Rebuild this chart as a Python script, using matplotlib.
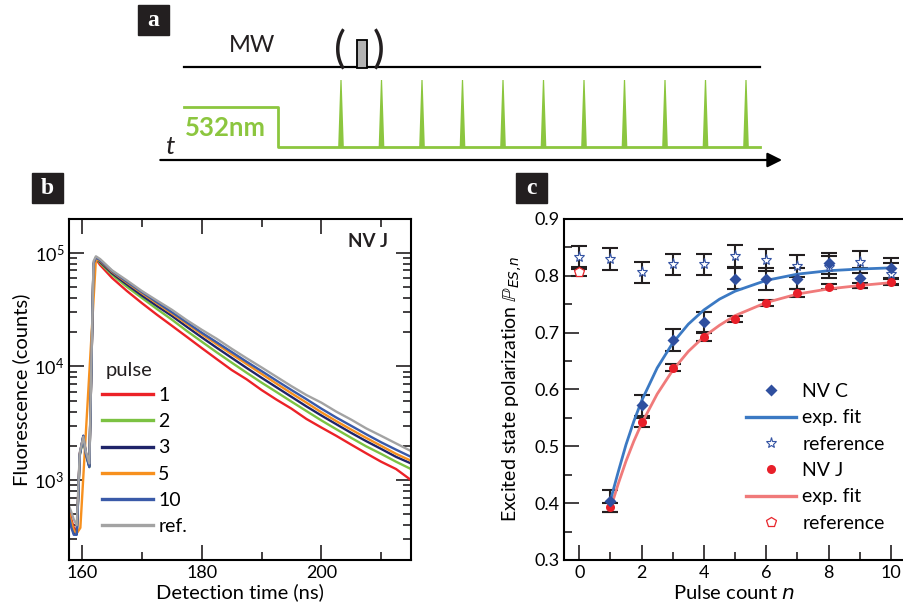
import matplotlib
matplotlib.use('Agg')
import matplotlib.pyplot as plt
from matplotlib.patches import Rectangle, Polygon
from matplotlib.ticker import MultipleLocator
from matplotlib.lines import Line2D

plt.rcParams['font.family'] = ['Lato', 'DejaVu Sans']
plt.rcParams['mathtext.fontset'] = 'dejavusans'

# ---------------- panel a: pulse sequence (schematic, units of pulse period) ----------------
pulse_idx = [1, 2, 3, 4, 5, 6, 7, 8, 9, 10, 11]
seq_start, seq_end = -2.88, 11.35
laser_off = -0.55
mw_pulse_at = 1.52
arrow_start, arrow_end = -3.53, 11.96

# ---------------- panel b: fluorescence decay ----------------
t_rise = [157.8, 158.2, 158.6, 159.1, 159.6, 160.2, 160.6, 161.2, 161.9]
t_rise_orange = [157.8, 158.2, 158.6, 159.1, 159.7]
t_decay = [162.3, 163, 165, 167.5, 170, 172.5, 175, 177.5, 180, 182.5, 185, 187.5,
           190, 192.5, 195, 197.5, 200, 202.5, 205, 207.5, 210, 212.5, 215]

rise_1 = [560, 450, 380, 350, 1700, 2400, 1750, 1330, 78000]
rise_2 = [500, 420, 350, 340, 1650, 2350, 1700, 1300, 79000]
rise_3 = [480, 400, 340, 335, 1700, 2450, 1750, 1320, 80000]
rise_5 = [520, 420, 360, 340, 380]
rise_10 = [470, 380, 330, 330, 1650, 2450, 1700, 1300, 80000]
rise_ref = [590, 520, 450, 400, 1750, 2400, 1800, 1400, 84000]

decay_1 = [88000, 78000, 60000, 46000, 36000, 28500, 22800, 18200, 14500, 11600, 9300, 7700,
           6200, 5100, 4250, 3450, 2900, 2450, 2050, 1720, 1450, 1250, 1000]
decay_2 = [90000, 81000, 64000, 50000, 40000, 32000, 25800, 20500, 16500, 13300, 10800, 8800,
           7200, 5950, 4900, 4050, 3350, 2800, 2350, 1980, 1700, 1450, 1250]
decay_3 = [90000, 83000, 66000, 52500, 42000, 34000, 27800, 22300, 18000, 14600, 11900, 9700,
           7950, 6550, 5400, 4450, 3700, 3100, 2600, 2200, 1880, 1600, 1400]
decay_5 = [88000, 85000, 68000, 54500, 44000, 35800, 29200, 23700, 19200, 15700, 12800, 10500,
           8600, 7050, 5800, 4800, 3950, 3300, 2780, 2350, 2000, 1700, 1480]
decay_10 = [91000, 86000, 69000, 55500, 45000, 36700, 30000, 24400, 19800, 16300, 13400, 11000,
            9100, 7500, 6200, 5150, 4250, 3550, 3000, 2530, 2150, 1850, 1600]
decay_ref = [93000, 88000, 70000, 57000, 46000, 38000, 31500, 25500, 21000, 17500, 14300, 11800,
             9800, 8100, 6700, 5600, 4800, 4000, 3400, 2850, 2450, 2100, 1800]

pulse_labels = ['1', '2', '3', '5', '10', 'ref.']
pulse_colors = ['#ec2227', '#7cc242', '#1f2469', '#f7901e', '#3a5aa8', '#a3a3a3']

# ---------------- panel c: excited state polarization ----------------
n_pulse = [1, 2, 3, 4, 5, 6, 7, 8, 9, 10]
n_ref = [0, 1, 2, 3, 4, 5, 6, 7, 8, 9, 10]
nvc = [0.404, 0.572, 0.687, 0.719, 0.795, 0.794, 0.795, 0.822, 0.796, 0.814]
nvc_err = [0.019, 0.018, 0.019, 0.018, 0.019, 0.019, 0.019, 0.019, 0.017, 0.018]
nvc_ref = [0.834, 0.830, 0.806, 0.820, 0.820, 0.835, 0.828, 0.817, 0.816, 0.824, 0.804]
nvc_ref_err = [0.019, 0.019, 0.019, 0.019, 0.019, 0.019, 0.019, 0.019, 0.019, 0.019, 0.019]
nvj = [0.393, 0.542, 0.638, 0.693, 0.724, 0.752, 0.770, 0.781, 0.783, 0.789]
nvj_err = [0.008, 0.008, 0.006, 0.007, 0.006, 0.005, 0.007, 0.005, 0.005, 0.006]
nvj_ref_n = [0]
nvj_ref = [0.806]
nvj_ref_err = [0.006]

fit_n = [1.0, 1.25, 1.5, 1.75, 2.0, 2.5, 3.0, 3.5, 4.0, 4.5, 5.0, 6.0, 7.0, 8.0, 9.0, 10.0]
fit_c = [0.405, 0.455, 0.503, 0.544, 0.580, 0.638, 0.682, 0.715, 0.740, 0.759, 0.773,
         0.792, 0.803, 0.809, 0.812, 0.814]
fit_j = [0.390, 0.434, 0.474, 0.509, 0.540, 0.592, 0.634, 0.667, 0.693, 0.713, 0.730,
         0.753, 0.768, 0.777, 0.783, 0.788]

W, H = 904, 614
fig = plt.figure(figsize=(W / 100, H / 100), dpi=100)


def px_axes(x0, y0, x1, y1):
    return fig.add_axes([x0 / W, 1 - y1 / H, (x1 - x0) / W, (y1 - y0) / H])


def label_box(x0, y0, letter):
    fig.patches.append(Rectangle((x0 / W, 1 - (y0 + 30) / H), 31 / W, 30 / H,
                                 transform=fig.transFigure, color='#231f20'))
    fig.text((x0 + 15.5) / W, 1 - (y0 + 15) / H, letter, color='white', ha='center',
             va='center', fontsize=17, fontweight='bold', family='Liberation Serif')


green = '#8cc63f'
ink = '#231f20'

# ---- panel a ----
ax_a = px_axes(0, 0, W, 170)
ax_a.set_xlim(-300.5 / 40.5, (W - 300.5) / 40.5)
ax_a.set_ylim(170, 0)
ax_a.axis('off')
ax_a.plot([seq_start, seq_end], [67, 67], color='k', lw=1.6)
ax_a.plot([seq_start, laser_off, laser_off, seq_end], [107, 107, 147, 147], color=green, lw=2)
for p in pulse_idx:
    ax_a.add_patch(Polygon([(p - 0.07, 147), (p - 0.015, 80), (p + 0.015, 80), (p + 0.07, 147)],
                           closed=True, color=green, lw=0))
ax_a.add_patch(Rectangle((mw_pulse_at - 0.13, 40), 0.26, 28, facecolor='#b3b3b3',
                         edgecolor='k', lw=1.3, zorder=3))
ax_a.text(mw_pulse_at - 0.55, 51, '(', fontsize=32, ha='center', va='center', color=ink)
ax_a.text(mw_pulse_at + 0.40, 51, ')', fontsize=32, ha='center', va='center', color=ink)
ax_a.text(-1.2, 45, 'MW', fontsize=17, ha='center', va='center', color=ink)
ax_a.text(-2.85, 128, '532nm', fontsize=18.5, fontweight='bold', color=green, va='center')
ax_a.text(-3.35, 146, 't', fontsize=19, style='italic', va='center', color=ink)
ax_a.annotate('', xy=(arrow_end, 160), xytext=(arrow_start, 160),
              arrowprops=dict(arrowstyle='-|>', color='k', lw=1.6, mutation_scale=22))
label_box(138, 5, 'a')

# ---- panel b ----
ax_b = px_axes(69, 219, 411, 560)
rises = [rise_1, rise_2, rise_3, rise_5, rise_10, rise_ref]
decays = [decay_1, decay_2, decay_3, decay_5, decay_10, decay_ref]
for lab, col, r, d in zip(pulse_labels, pulse_colors, rises, decays):
    tr = t_rise_orange if lab == '5' else t_rise
    ax_b.plot(tr + t_decay, r + d, color=col, lw=1.7, label=lab)
ax_b.set_yscale('log')
ax_b.set_xlim(157.8, 215)
ax_b.set_ylim(198, 1.98e5)
ax_b.xaxis.set_major_locator(MultipleLocator(20))
ax_b.xaxis.set_minor_locator(MultipleLocator(10))
ax_b.tick_params(which='both', direction='in', top=True, right=True, width=1.2,
                 labelsize=13, color=ink)
ax_b.tick_params(which='major', length=11)
ax_b.tick_params(which='minor', length=6)
for s in ax_b.spines.values():
    s.set_linewidth(1.5)
ax_b.set_xlabel('Detection time (ns)', fontsize=14.5, labelpad=2)
ax_b.set_ylabel('Fluorescence (counts)', fontsize=14.5, labelpad=3)
ax_b.text(0.933, 0.933, 'NV J', transform=ax_b.transAxes, ha='right', va='center',
          fontsize=13.5, fontweight='bold', color=ink)
ax_b.text(0.108, 0.557, 'pulse', transform=ax_b.transAxes, ha='left', va='center',
          fontsize=14.5, color=ink)
leg_b = ax_b.legend(frameon=False, loc='upper left',
                    bbox_to_anchor=(0.0965, 0.507), borderpad=0, borderaxespad=0,
                    handlelength=2.6, handletextpad=0.3, labelspacing=0.47, fontsize=14)
for h in leg_b.get_lines():
    h.set_linewidth(2.4)
label_box(32, 173, 'b')

# ---- panel c ----
ax_c = px_axes(564, 219, 904, 560)
ebar = dict(fmt='none', ecolor=ink, elinewidth=1.5, capsize=5.5, capthick=1.5, zorder=2)
ax_c.errorbar(n_ref, nvc_ref, yerr=nvc_ref_err, **ebar)
ax_c.errorbar(nvj_ref_n, nvj_ref, yerr=nvj_ref_err, **ebar)
ax_c.errorbar(n_pulse, nvc, yerr=nvc_err, **ebar)
ax_c.errorbar(n_pulse, nvj, yerr=nvj_err, **ebar)
ax_c.plot(fit_n, fit_j, color='#f07a7a', lw=2, zorder=2.5)
ax_c.plot(fit_n, fit_c, color='#3b79c3', lw=2, zorder=2.5)
ax_c.plot(nvj_ref_n, nvj_ref, 'p', ms=7, mfc='white', mec='#e8262c', mew=0.9, zorder=3)
ax_c.plot(n_ref, nvc_ref, '*', ms=8, mfc='white', mec='#3554a4', mew=0.8, zorder=3)
ax_c.plot(n_pulse, nvj, 'o', ms=6.5, color='#e8202a', mec='none', zorder=3)
ax_c.plot(n_pulse, nvc, 'D', ms=6.5, color='#2f4f9f', mec='none', zorder=3)
ax_c.set_xlim(-0.49, 10.42)
ax_c.set_ylim(0.3, 0.9)
ax_c.xaxis.set_major_locator(MultipleLocator(2))
ax_c.xaxis.set_minor_locator(MultipleLocator(1))
ax_c.yaxis.set_major_locator(MultipleLocator(0.1))
ax_c.yaxis.set_minor_locator(MultipleLocator(0.05))
ax_c.tick_params(which='both', direction='in', width=1.2, labelsize=13, color=ink)
ax_c.tick_params(which='major', length=11)
ax_c.tick_params(which='minor', length=6)
ax_c.spines['right'].set_visible(False)
for s in ['left', 'bottom', 'top']:
    ax_c.spines[s].set_linewidth(1.5)
ax_c.set_xlabel('Pulse count $n$', fontsize=14.5, labelpad=2)
ax_c.set_ylabel(r'Excited state polarization $\mathbb{P}_{ES,\!n}$', fontsize=14, labelpad=7)
handles_c = [
    Line2D([], [], ls='none', marker='D', ms=6.5, color='#2f4f9f', mec='none'),
    Line2D([], [], color='#3b79c3', lw=2.4),
    Line2D([], [], ls='none', marker='*', ms=8, mfc='white', mec='#3554a4', mew=0.8),
    Line2D([], [], ls='none', marker='o', ms=6.5, color='#e8202a', mec='none'),
    Line2D([], [], color='#f07a7a', lw=2.4),
    Line2D([], [], ls='none', marker='p', ms=7, mfc='white', mec='#e8262c', mew=0.9),
]
labels_c = ['NV C', 'exp. fit', 'reference', 'NV J', 'exp. fit', 'reference']
ax_c.legend(handles_c, labels_c, frameon=False, loc='upper left',
            bbox_to_anchor=(0.535, 0.519), borderpad=0, borderaxespad=0,
            handlelength=2.6, handletextpad=0.3, labelspacing=0.48, fontsize=14)
label_box(516, 173, 'c')

fig.savefig('out.png', dpi=100)
